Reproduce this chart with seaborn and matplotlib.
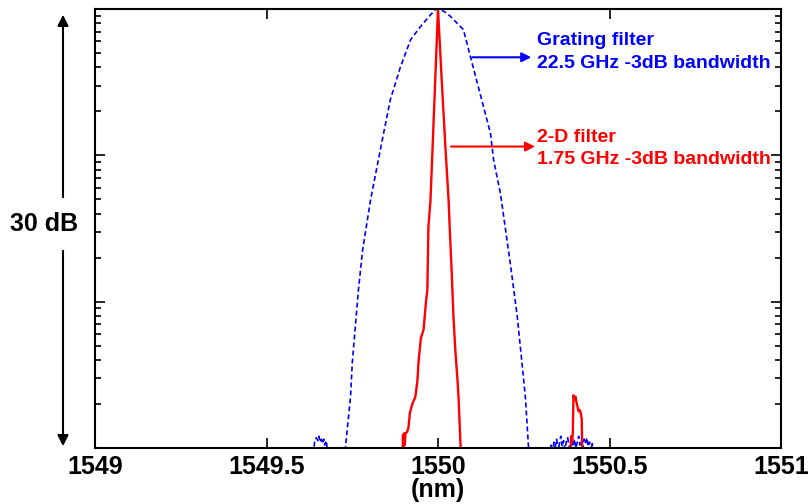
import numpy as np
import pandas as pd
import seaborn as sns
import matplotlib.pyplot as plt
from matplotlib.patches import FancyArrowPatch

# wavelength (nm) and relative transmission (dB)
grating_nm = [1549.636, 1549.640, 1549.645, 1549.650, 1549.653, 1549.656, 1549.660,
              1549.663, 1549.667, 1549.670, 1549.674, 1549.678, 1549.680,
              1549.728, 1549.730, 1549.745, 1549.750, 1549.768, 1549.780, 1549.803,
              1549.832, 1549.861, 1549.890, 1549.920, 1549.949, 1549.978, 1549.995,
              1550.004, 1550.020, 1550.036, 1550.074, 1550.095, 1550.153, 1550.162,
              1550.182, 1550.212, 1550.231, 1550.250, 1550.255, 1550.264, 1550.266,
              1550.326, 1550.330, 1550.334, 1550.338, 1550.342, 1550.346, 1550.350,
              1550.354, 1550.358, 1550.362, 1550.366, 1550.370, 1550.374, 1550.378,
              1550.382, 1550.386, 1550.390, 1550.394, 1550.398, 1550.402, 1550.406,
              1550.410, 1550.414, 1550.418, 1550.422, 1550.426, 1550.430, 1550.434,
              1550.438, 1550.442, 1550.446, 1550.450, 1550.454, 1550.458]
grating_db = [-31.0, -29.6, -29.3, -29.5, -29.2, -29.6, -29.4,
              -29.7, -29.4, -29.8, -29.5, -30.2, -31.0,
              -31.0, -30.0, -26.5, -24.2, -19.2, -16.5, -13.1,
              -9.6, -6.2, -4.0, -2.1, -1.2, -0.4, 0.0,
              0.0, -0.2, -0.5, -1.4, -3.3, -8.5, -10.3,
              -12.6, -17.6, -21.0, -25.4, -26.6, -30.0, -31.0,
              -31.0, -29.8, -30.3, -29.6, -29.9, -29.4, -30.2,
              -29.7, -29.2, -29.9, -29.5, -30.1, -29.6, -29.3,
              -29.8, -30.2, -29.5, -29.9, -29.4, -30.0, -29.6,
              -29.2, -29.8, -29.5, -30.1, -29.4, -29.7, -29.3,
              -29.9, -29.6, -30.2, -29.7, -30.3, -31.0]

filter2d_nm = [1549.896, 1549.898, 1549.899, 1549.901, 1549.903, 1549.905, 1549.910,
               1549.914, 1549.918, 1549.925, 1549.934, 1549.940, 1549.943, 1549.950,
               1549.958, 1549.965, 1549.969, 1549.972, 1549.978, 1549.984, 1549.992,
               1550.000, 1550.010, 1550.022, 1550.031, 1550.034, 1550.040, 1550.045,
               1550.051, 1550.057, 1550.060, 1550.066, 1550.068,
               1550.385, 1550.388, 1550.391, 1550.393, 1550.395, 1550.398, 1550.401,
               1550.404, 1550.407, 1550.410, 1550.413, 1550.416, 1550.419, 1550.421]
filter2d_db = [-31.0, -29.1, -30.2, -29.0, -29.8, -29.0, -28.9,
               -28.6, -27.6, -27.0, -26.5, -25.4, -24.2, -22.5,
               -21.9, -20.0, -19.2, -14.9, -13.1, -9.6, -4.8,
               0.0, -4.5, -9.6, -13.1, -14.9, -18.0, -21.0,
               -23.5, -25.4, -26.6, -30.0, -31.0,
               -31.0, -29.2, -29.6, -29.0, -26.4, -26.7, -26.5,
               -26.9, -27.2, -27.5, -27.4, -27.6, -28.0, -31.0]

xticks = [1549, 1549.5, 1550, 1550.5, 1551]
xtick_labels = ["1549", "1549.5", "1550", "1550.5", "1551"]

grating = pd.DataFrame({"nm": grating_nm, "p": 10 ** (np.array(grating_db) / 10)})
filt2d = pd.DataFrame({"nm": filter2d_nm, "p": 10 ** (np.array(filter2d_db) / 10)})

sns.set_theme(style="ticks")
plt.rcParams["font.family"] = ["Liberation Sans", "DejaVu Sans"]
plt.rcParams["font.weight"] = "bold"
plt.rcParams["text.color"] = "black"
plt.rcParams["axes.labelcolor"] = "black"
plt.rcParams["xtick.color"] = "black"
plt.rcParams["ytick.color"] = "black"

fig = plt.figure(figsize=(8.11, 5.04), dpi=100)
ax = fig.add_axes([95 / 811, 56 / 504, 686 / 811, 439 / 504])

sns.lineplot(data=grating, x="nm", y="p", sort=False, estimator=None,
             color="#0000ff", linestyle=(0, (3, 1.8)), linewidth=1.2, ax=ax)
sns.lineplot(data=filt2d, x="nm", y="p", sort=False, estimator=None,
             color="#ff0000", linewidth=1.7, ax=ax)

ax.set_yscale("log")
ax.set_ylim(1e-3, 1)
ax.set_xlim(1549, 1551)
ax.set_xticks(xticks)
ax.set_xticklabels(xtick_labels, fontsize=18, fontweight="bold", color="black")
ax.tick_params(axis="both", which="both", direction="in", top=True, right=True,
               color="black", width=1.2)
ax.tick_params(axis="both", which="major", length=7, pad=5)
ax.tick_params(axis="y", which="minor", length=4)
ax.tick_params(axis="x", which="minor", bottom=False, top=False)
ax.set_yticklabels([], minor=True)
ax.set_yticklabels([])
ax.set_ylabel("")
ax.set_xlabel("(nm)", fontsize=18, fontweight="bold", color="black", labelpad=-1)
for s in ax.spines.values():
    s.set_linewidth(1.5)
    s.set_color("black")


def db(v):
    return 10 ** (v / 10)


# annotations
ax.annotate("", xy=(1550.272, db(-3.3)), xytext=(1550.100, db(-3.3)),
            arrowprops=dict(arrowstyle="-|>", color="#0000ff", lw=1.5, mutation_scale=14,
                            shrinkA=0, shrinkB=0))
ax.text(1550.288, db(-2.15), "Grating filter", color="#0000ff", fontsize=14,
        fontweight="bold", va="center", ha="left")
ax.text(1550.288, db(-3.75), "22.5 GHz -3dB bandwidth", color="#0000ff", fontsize=14,
        fontweight="bold", va="center", ha="left")

ax.annotate("", xy=(1550.283, db(-9.4)), xytext=(1550.038, db(-9.4)),
            arrowprops=dict(arrowstyle="-|>", color="#ff0000", lw=1.5, mutation_scale=14,
                            shrinkA=0, shrinkB=0))
ax.text(1550.288, db(-8.75), "2-D filter", color="#ff0000", fontsize=14,
        fontweight="bold", va="center", ha="left")
ax.text(1550.288, db(-10.3), "1.75 GHz -3dB bandwidth", color="#ff0000", fontsize=14,
        fontweight="bold", va="center", ha="left")

# 30 dB span arrow on the left
arrow_x = 63 / 811
fig.text(44 / 811, 1 - 224 / 504, "30 dB", fontsize=18, fontweight="bold",
         color="black", ha="center", va="center")
fig.add_artist(FancyArrowPatch(
    (arrow_x, 1 - 200 / 504), (arrow_x, 1 - 12 / 504), transform=fig.transFigure,
    arrowstyle="-|>", mutation_scale=16, color="black", lw=1.5))
fig.add_artist(FancyArrowPatch(
    (arrow_x, 1 - 248 / 504), (arrow_x, 1 - 449 / 504), transform=fig.transFigure,
    arrowstyle="-|>", mutation_scale=16, color="black", lw=1.5))

fig.savefig("out.png", dpi=100)
